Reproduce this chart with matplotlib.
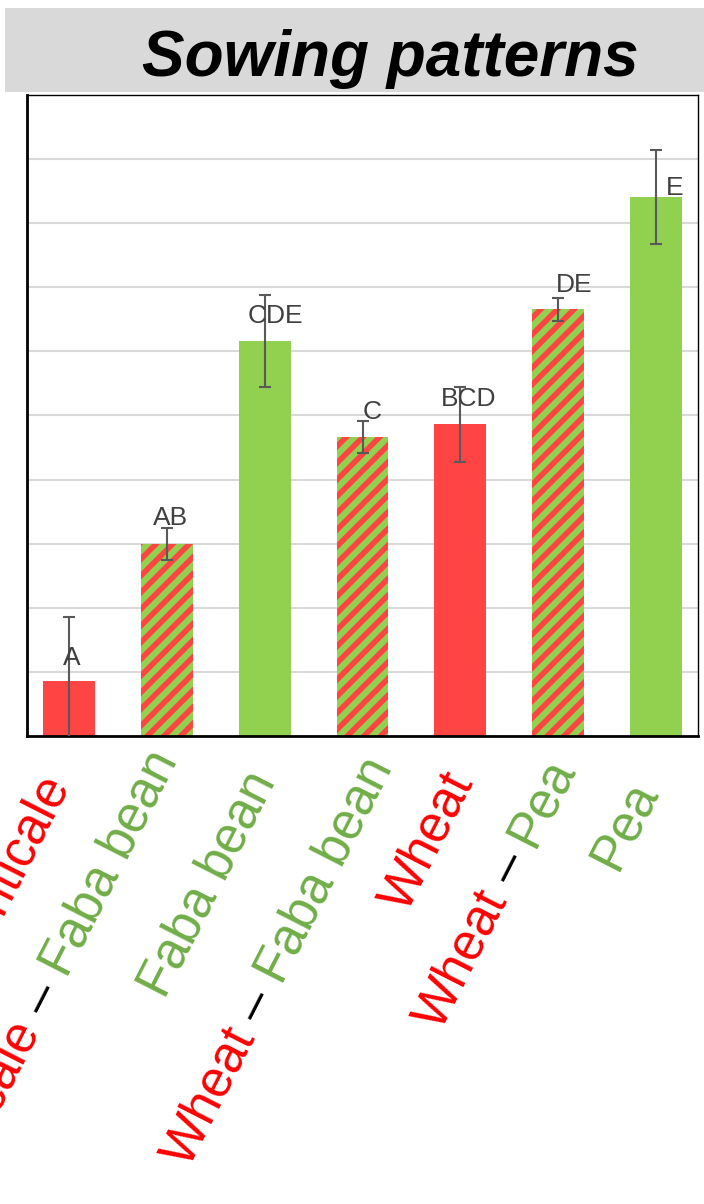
import matplotlib
matplotlib.use("Agg")
import math
import matplotlib.pyplot as plt
from matplotlib.font_manager import FontProperties
from matplotlib.patches import Rectangle

# Grain yield by sowing pattern (sole crops and intercrops)
sowing = ["Triticale", "Triticale – Faba bean", "Faba bean",
          "Wheat – Faba bean", "Wheat", "Wheat – Pea", "Pea"]
means = [0.86, 3.0, 6.16, 4.66, 4.86, 6.66, 8.41]
errors = [1.0, 0.25, 0.72, 0.25, 0.59, 0.18, 0.73]
groups = ["A", "AB", "CDE", "C", "BCD", "DE", "E"]

cereal_red = "#FF4444"
legume_green = "#92D050"
label_colors = {"Triticale": "#FF0000", "Wheat": "#FF0000",
                "Faba bean": "#70AD47", "Pea": "#70AD47", " – ": "black"}

# letter offsets (pixels) from bar centre / bar top
group_dx = [3, 4, 11, 10, 8, 16, 19]
group_dy = [16, 19, 18, 18, 18, 17, 2]
# right end of the rotated category labels (pixels from tick / axis)
tick_dx = [1, 11, 11, 30, 13, 17, 2]
tick_dy = [49, 24, 45, 31, 46, 31, 54]
angle = 63

plt.rcParams["font.family"] = ["Liberation Sans", "DejaVu Sans"]
plt.rcParams["hatch.linewidth"] = 4.0

W, H = 704, 1204
fig = plt.figure(figsize=(W / 100, H / 100), dpi=100)

# title banner
fig.patches.append(Rectangle((5 / W, 1 - 92 / H), 699 / W, 84 / H,
                             transform=fig.transFigure, facecolor="#D9D9D9",
                             edgecolor="none", zorder=0))
fig.text(390 / W, 1 - 76 / H, "Sowing patterns", ha="center", va="baseline",
         fontsize=46, fontweight="bold", fontstyle="italic", color="black")

ax = fig.add_axes([27 / W, 1 - 736 / H, 671 / W, 641 / H])

x = list(range(len(sowing)))
for i, name in enumerate(sowing):
    if " – " in name:
        ax.bar(i, means[i], width=0.53, color=legume_green, edgecolor=cereal_red,
               hatch="//", linewidth=0, zorder=2)
    else:
        c = cereal_red if label_colors[name] == "#FF0000" else legume_green
        ax.bar(i, means[i], width=0.53, color=c, linewidth=0, zorder=2)

ax.errorbar(x, means, yerr=errors, fmt="none", ecolor="#595959",
            elinewidth=1.5, capsize=4, capthick=1.5, zorder=3)

for i, g in enumerate(groups):
    ax.annotate(g, xy=(i, means[i]), xytext=(group_dx[i], group_dy[i]),
                textcoords="offset pixels", ha="center", va="baseline",
                fontsize=19, color="#404040", zorder=4)

ax.set_xlim(-0.43, 6.43)
ax.set_ylim(0, 10)
ax.set_yticks(range(1, 10))
ax.yaxis.grid(True, color="#D9D9D9", linewidth=1.5, zorder=0)
ax.set_axisbelow(True)
ax.tick_params(axis="both", length=0, labelleft=False, labelbottom=False)
ax.set_xticks(x)
for side in ["left", "bottom"]:
    ax.spines[side].set_linewidth(2)
for side in ["top", "right"]:
    ax.spines[side].set_linewidth(1)

# multi-coloured rotated category labels, drawn piece by piece
renderer = fig.canvas.get_renderer()
prop = FontProperties(family="Liberation Sans", size=37)


def text_width(s):
    w1 = renderer.get_text_width_height_descent(s + "H", prop, ismath=False)[0]
    w2 = renderer.get_text_width_height_descent("H", prop, ismath=False)[0]
    return w1 - w2


ca, sa = math.cos(math.radians(angle)), math.sin(math.radians(angle))
for i, name in enumerate(sowing):
    parts = name.split(" – ")
    pieces = [parts[0]]
    for p in parts[1:]:
        pieces += [" – ", p]
    total = text_width(name)
    start = 0.0
    for piece in pieces:
        if piece.strip():
            off = start - total
            ax.annotate(piece, xy=(i, 0), xycoords=("data", "axes fraction"),
                        xytext=(tick_dx[i] + off * ca, -tick_dy[i] + off * sa),
                        textcoords="offset pixels", rotation=angle,
                        rotation_mode="anchor", ha="left", va="baseline",
                        fontproperties=prop, color=label_colors[piece],
                        annotation_clip=False)
        start += text_width(piece)

fig.savefig("out.png", dpi=100)
